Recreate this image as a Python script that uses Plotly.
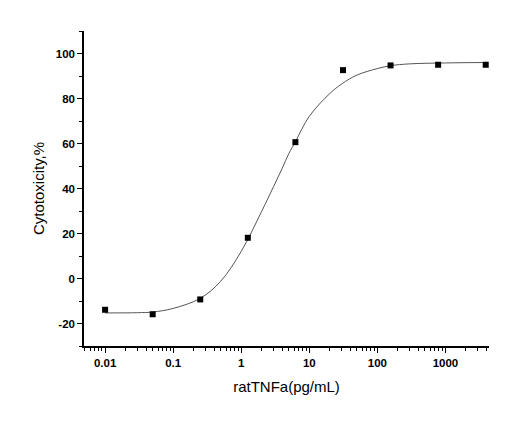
import plotly.graph_objects as go

# measured points (5-fold dilution series)
conc = [0.01, 0.05, 0.25, 1.25, 6.25, 31.25, 156.25, 781.25, 3906.25]
cytotox = [-13.9, -15.9, -9.3, 18.1, 60.6, 92.6, 94.7, 95.0, 95.0]

# fitted curve
fit_x = [0.01, 0.03, 0.05, 0.1, 0.25, 0.5, 1, 2, 3, 4, 5, 6.25, 10, 20, 30, 50,
         100, 156.25, 300, 1000, 3906.25]
fit_y = [-15.3, -15.2, -14.9, -13.3, -8.8, -1.2, 12.1, 29.9, 41.0, 49.0, 55.5,
         60.8, 72.1, 82.2, 86.5, 90.4, 93.3, 94.6, 95.4, 95.8, 96.0]

x_ticks = [0.01, 0.1, 1, 10, 100, 1000]
x_labels = ['0.01', '0.1', '1', '10', '100', '1000']
y_ticks = [-20, 0, 20, 40, 60, 80, 100]
y_labels = ['-20', '0', '20', '40', '60', '80', '100']

fig = go.Figure()
fig.add_trace(go.Scatter(x=fit_x, y=fit_y, mode='lines', line_shape='spline',
                         line=dict(color='#555555', width=1), hoverinfo='skip'))
fig.add_trace(go.Scatter(x=conc, y=cytotox, mode='markers',
                         marker=dict(symbol='square', size=6, color='black')))

tick_font = dict(family='Liberation Sans, Arial', size=11.5, color='black', weight='bold')
title_font = dict(family='Liberation Sans, Arial', size=15, color='black')

# page body adds an 8px offset, so margins are shifted to compensate
fig.update_layout(
    width=520, height=427,
    margin=dict(l=76, r=39, t=23, b=89),
    paper_bgcolor='white', plot_bgcolor='white',
    showlegend=False,
    xaxis=dict(type='log', range=[-2.31, 3.64],
               tickvals=x_ticks, ticktext=x_labels,
               ticks='outside', ticklen=5, tickwidth=1, tickcolor='black',
               minor=dict(ticks='outside', ticklen=3, tickwidth=1, tickcolor='black',
                          dtick='D1'),
               showline=True, linecolor='black', linewidth=1.5,
               showgrid=False, zeroline=False, tickfont=tick_font,
               title=dict(text='ratTNFa(pg/mL)', font=title_font, standoff=14)),
    yaxis=dict(range=[-30, 110],
               tickvals=y_ticks, ticktext=y_labels,
               ticks='outside', ticklen=5, tickwidth=1, tickcolor='black',
               minor=dict(ticks='outside', ticklen=3, tickwidth=1, tickcolor='black',
                          dtick=10, tick0=0),
               showline=True, linecolor='black', linewidth=1.5,
               showgrid=False, zeroline=False, tickfont=tick_font,
               title=dict(text='Cytotoxicity,%', font=title_font, standoff=8)),
)

fig.write_html('out.html')
